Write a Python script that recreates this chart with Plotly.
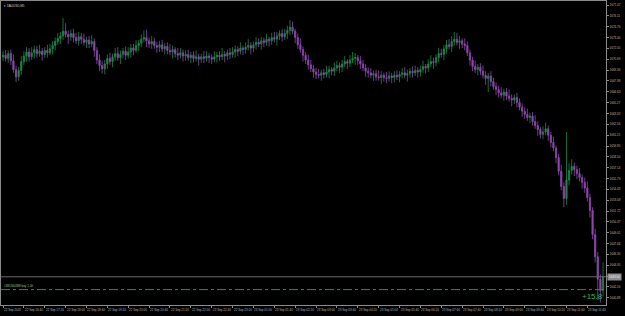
import plotly.graph_objects as go

SYMBOL = "XAUUSD,M5"
ORDER_LABEL = "#495160398 buy 1.00"
PROFIT_TEXT = "+15.8"

O = [
1671.00,1671.20,1670.80,1671.40,1670.50,1669.40,1668.50,1669.30,1670.40,1671.10,
1671.60,1671.00,1671.50,1671.90,1671.40,1671.70,1671.30,1671.80,1671.50,1672.00,
1672.40,1672.90,1673.30,1673.60,1674.20,1673.80,1673.50,1673.90,1673.40,1673.00,
1673.50,1673.20,1672.80,1673.10,1672.60,1672.90,1671.80,1670.60,1669.90,1669.50,
1670.10,1670.80,1670.40,1671.00,1671.40,1670.90,1671.30,1671.70,1671.20,1671.60,
1672.10,1671.80,1672.40,1672.70,1673.20,1673.40,1673.00,1672.60,1672.90,1672.40,
1672.20,1672.50,1672.00,1672.30,1671.80,1671.60,1671.90,1671.40,1671.20,1671.50,
1671.10,1671.30,1670.90,1671.20,1670.80,1671.00,1670.70,1671.00,1670.80,1671.10,
1670.90,1670.70,1671.00,1671.20,1671.00,1671.30,1671.10,1671.50,1671.30,1671.60,
1671.90,1671.70,1672.10,1671.90,1672.20,1672.40,1672.10,1672.50,1672.80,1672.60,
1673.00,1672.80,1673.20,1673.00,1673.40,1673.20,1673.60,1673.90,1673.50,1673.90,
1674.30,1674.70,1674.20,1673.40,1672.50,1671.90,1671.20,1670.60,1670.00,1669.50,
1669.10,1668.80,1668.70,1669.00,1668.80,1669.10,1669.40,1669.20,1669.60,1669.90,
1669.70,1670.10,1670.40,1670.20,1670.60,1670.80,1670.90,1670.50,1670.10,1669.60,
1669.20,1669.00,1668.70,1668.90,1668.50,1668.40,1668.70,1668.40,1668.30,1668.60,
1668.40,1668.70,1668.50,1668.80,1669.00,1668.70,1668.90,1669.20,1669.00,1669.30,
1669.10,1669.40,1669.80,1669.60,1670.10,1670.40,1670.30,1670.90,1671.40,1671.30,
1672.00,1672.50,1672.30,1672.90,1673.20,1672.80,1673.00,1672.60,1672.40,1671.50,
1670.60,1669.80,1669.40,1669.70,1669.20,1668.70,1668.30,1668.60,1667.90,1667.30,
1666.90,1666.50,1666.20,1666.60,1666.10,1665.80,1665.60,1665.90,1665.30,1664.70,
1664.20,1663.80,1663.40,1663.60,1662.90,1662.40,1661.90,1661.30,1661.60,1662.00,
1661.20,1660.30,1659.60,1658.40,1656.70,1654.80,1653.30,1655.60,1656.80,1657.30,
1656.90,1656.40,1655.90,1655.30,1654.60,1653.40,1651.80,1648.80,1646.00,1643.20,
1641.80]

H = [
1671.75,1671.85,1671.80,1671.90,1671.30,1669.90,1669.70,1671.10,1671.70,1672.20,
1672.10,1672.20,1672.40,1672.40,1672.50,1672.10,1672.20,1672.50,1672.60,1673.00,
1673.40,1674.00,1674.10,1675.85,1675.20,1674.30,1674.40,1674.50,1674.00,1674.10,
1674.00,1673.90,1673.50,1673.60,1673.70,1673.30,1672.20,1671.30,1670.50,1670.60,
1671.30,1671.50,1671.40,1672.10,1672.20,1671.80,1672.10,1672.30,1672.20,1672.60,
1672.60,1673.10,1673.10,1673.80,1674.30,1674.40,1673.40,1673.60,1673.40,1672.90,
1673.00,1673.10,1672.70,1672.80,1672.60,1672.40,1672.20,1672.10,1672.10,1671.90,
1671.80,1671.90,1671.60,1671.70,1671.80,1671.40,1671.40,1671.70,1671.70,1671.50,
1671.30,1671.70,1671.60,1671.70,1672.10,1671.70,1671.90,1672.10,1672.20,1672.40,
1672.30,1672.80,1672.40,1672.80,1673.20,1672.80,1672.90,1673.50,1673.30,1673.50,
1673.40,1673.90,1673.50,1674.00,1674.10,1674.10,1674.30,1674.50,1674.50,1674.90,
1675.60,1675.40,1674.50,1673.90,1673.30,1672.30,1671.60,1671.30,1670.60,1670.00,
1669.60,1669.50,1669.40,1669.50,1669.90,1669.90,1669.70,1670.30,1670.50,1670.30,
1670.60,1671.10,1670.70,1671.20,1671.60,1671.50,1671.20,1671.10,1670.60,1670.10,
1669.70,1669.60,1669.30,1669.40,1669.30,1669.20,1669.00,1669.10,1669.20,1669.00,
1669.20,1669.30,1669.20,1669.60,1669.70,1669.40,1669.60,1669.80,1669.90,1669.70,
1669.90,1670.50,1670.10,1670.70,1671.20,1670.90,1671.30,1672.10,1672.00,1672.50,
1673.10,1673.20,1673.60,1674.10,1674.00,1673.60,1673.30,1673.30,1672.90,1671.90,
1671.00,1670.50,1670.10,1670.20,1669.90,1669.20,1669.00,1669.20,1668.40,1667.80,
1667.40,1667.20,1667.00,1667.10,1666.90,1666.30,1666.30,1666.50,1665.80,1665.20,
1664.70,1664.50,1664.00,1664.10,1663.70,1662.90,1662.20,1662.30,1662.80,1662.40,
1661.60,1661.00,1659.90,1658.90,1657.50,1655.30,1661.60,1657.70,1658.20,1657.80,
1657.40,1657.10,1656.30,1655.90,1655.40,1653.90,1652.20,1649.50,1646.60,1643.80,
1645.30]

L = [
1670.45,1670.40,1670.20,1670.00,1669.00,1667.85,1668.00,1668.70,1670.00,1670.40,
1670.40,1670.60,1670.80,1670.90,1671.00,1670.50,1670.90,1670.90,1671.20,1671.30,
1671.80,1672.50,1672.60,1673.10,1673.40,1672.60,1673.00,1672.80,1672.60,1672.40,
1672.60,1672.40,1672.10,1672.10,1672.20,1671.00,1670.10,1669.20,1668.90,1668.80,
1669.50,1670.00,1669.70,1670.50,1670.50,1670.10,1670.80,1670.60,1670.80,1670.90,
1671.20,1671.50,1671.70,1672.20,1672.80,1672.20,1672.10,1672.00,1672.00,1671.50,
1671.60,1671.60,1671.30,1671.30,1671.20,1670.80,1670.90,1670.60,1670.80,1670.40,
1670.50,1670.50,1670.20,1670.30,1670.40,1669.90,1670.20,1670.20,1670.40,1670.20,
1670.10,1670.30,1670.30,1670.50,1670.60,1670.30,1670.60,1670.70,1670.90,1670.90,
1671.10,1671.30,1671.20,1671.40,1671.80,1671.30,1671.60,1671.90,1672.20,1671.90,
1672.20,1672.40,1672.30,1672.50,1672.80,1672.40,1673.10,1672.90,1673.10,1673.20,
1673.70,1673.80,1672.70,1672.00,1671.50,1670.40,1670.10,1669.40,1669.10,1668.40,
1668.20,1668.30,1668.00,1668.30,1668.40,1668.30,1668.70,1668.60,1669.20,1669.00,
1669.10,1669.70,1669.50,1669.70,1670.20,1670.00,1670.00,1669.50,1669.20,1668.50,
1668.40,1668.30,1668.00,1668.00,1668.00,1667.60,1667.90,1667.70,1667.90,1667.70,
1667.80,1668.10,1667.80,1668.30,1668.30,1667.90,1668.40,1668.40,1668.60,1668.40,
1668.50,1669.00,1668.90,1669.10,1669.70,1669.50,1669.80,1670.30,1670.90,1670.60,
1671.40,1671.90,1671.60,1672.40,1672.40,1672.00,1672.10,1671.80,1671.10,1669.90,
1669.20,1669.00,1668.70,1668.70,1668.30,1667.50,1666.60,1667.30,1666.90,1666.20,
1665.90,1665.80,1665.50,1665.60,1665.40,1664.80,1665.10,1664.70,1664.30,1663.50,
1663.20,1663.00,1662.70,1662.40,1662.00,1661.10,1660.80,1660.70,1661.20,1660.50,
1659.70,1659.20,1657.70,1656.20,1654.30,1652.20,1652.50,1654.90,1656.30,1656.10,
1655.70,1655.40,1654.50,1654.00,1652.90,1650.90,1648.20,1645.30,1640.60,1640.30,
1641.00]

C = [
1671.20,1670.80,1671.40,1670.50,1669.40,1668.50,1669.30,1670.40,1671.10,1671.60,
1671.00,1671.50,1671.90,1671.40,1671.70,1671.30,1671.80,1671.50,1672.00,1672.40,
1672.90,1673.30,1673.60,1674.20,1673.80,1673.50,1673.90,1673.40,1673.00,1673.50,
1673.20,1672.80,1673.10,1672.60,1672.90,1671.80,1670.60,1669.90,1669.50,1670.10,
1670.80,1670.40,1671.00,1671.40,1670.90,1671.30,1671.70,1671.20,1671.60,1672.10,
1671.80,1672.40,1672.70,1673.20,1673.40,1673.00,1672.60,1672.90,1672.40,1672.20,
1672.50,1672.00,1672.30,1671.80,1671.60,1671.90,1671.40,1671.20,1671.50,1671.10,
1671.30,1670.90,1671.20,1670.80,1671.00,1670.70,1671.00,1670.80,1671.10,1670.90,
1670.70,1671.00,1671.20,1671.00,1671.30,1671.10,1671.50,1671.30,1671.60,1671.90,
1671.70,1672.10,1671.90,1672.20,1672.40,1672.10,1672.50,1672.80,1672.60,1673.00,
1672.80,1673.20,1673.00,1673.40,1673.20,1673.60,1673.90,1673.50,1673.90,1674.30,
1674.70,1674.20,1673.40,1672.50,1671.90,1671.20,1670.60,1670.00,1669.50,1669.10,
1668.80,1668.70,1669.00,1668.80,1669.10,1669.40,1669.20,1669.60,1669.90,1669.70,
1670.10,1670.40,1670.20,1670.60,1670.80,1670.90,1670.50,1670.10,1669.60,1669.20,
1669.00,1668.70,1668.90,1668.50,1668.40,1668.70,1668.40,1668.30,1668.60,1668.40,
1668.70,1668.50,1668.80,1669.00,1668.70,1668.90,1669.20,1669.00,1669.30,1669.10,
1669.40,1669.80,1669.60,1670.10,1670.40,1670.30,1670.90,1671.40,1671.30,1672.00,
1672.50,1672.30,1672.90,1673.20,1672.80,1673.00,1672.60,1672.40,1671.50,1670.60,
1669.80,1669.40,1669.70,1669.20,1668.70,1668.30,1668.60,1667.90,1667.30,1666.90,
1666.50,1666.20,1666.60,1666.10,1665.80,1665.60,1665.90,1665.30,1664.70,1664.20,
1663.80,1663.40,1663.60,1662.90,1662.40,1661.90,1661.30,1661.60,1662.00,1661.20,
1660.30,1659.60,1658.40,1656.70,1654.80,1653.30,1655.60,1656.80,1657.30,1656.90,
1656.40,1655.90,1655.30,1654.60,1653.40,1651.80,1648.80,1646.00,1643.20,1641.80,
1643.50]

TIME_LABELS = [
"22 Sep 2022","22 Sep 16:40","22 Sep 17:20","22 Sep 18:00","22 Sep 18:40",
"22 Sep 19:20","22 Sep 20:00","22 Sep 20:40","22 Sep 21:20","22 Sep 22:00",
"22 Sep 22:40","22 Sep 23:20","23 Sep 01:00","23 Sep 01:40","23 Sep 02:20",
"23 Sep 03:00","23 Sep 03:40","23 Sep 04:20","23 Sep 05:00","23 Sep 05:40",
"23 Sep 06:20","23 Sep 07:00","23 Sep 07:40","23 Sep 08:20","23 Sep 09:00",
"23 Sep 09:40","23 Sep 10:20","23 Sep 11:00","23 Sep 11:40"]

PRICE_TICKS = [1677.47,1676.11,1674.76,1673.40,1672.05,1670.69,1669.34,1667.98,
1666.63,1665.27,1663.92,1662.56,1661.21,1659.85,1658.50,1657.14,1655.79,1654.43,
1653.08,1651.72,1650.37,1649.01,1647.66,1646.30,1644.95,1643.59,1642.24,1640.88]

BUY_PRICE = 1641.90
BARS_PER_LABEL = 8

GREEN = "#1f8748"
PURPLE = "#8e48ae"
AXIS_COL = "#8a8a8a"
TXT_COL = "#b4b4b4"
FONT = "Liberation Sans"

idx = list(range(len(C)))
bid = C[-1]

fig = go.Figure()
fig.add_trace(go.Candlestick(
    x=idx, open=O, high=H, low=L, close=C,
    increasing=dict(line=dict(color=GREEN, width=0.8), fillcolor=GREEN),
    decreasing=dict(line=dict(color=PURPLE, width=0.8), fillcolor=PURPLE),
    whiskerwidth=0, hoverinfo="skip", showlegend=False,
))

label_pos = [k * BARS_PER_LABEL for k in range(len(TIME_LABELS))]

shapes = [
    dict(type="line", xref="paper", x0=0, x1=1, yref="y", y0=bid, y1=bid,
         line=dict(color="#6a6a6a", width=1)),
    dict(type="line", xref="paper", x0=0, x1=1, yref="y", y0=BUY_PRICE, y1=BUY_PRICE,
         line=dict(color="#2f8a3a", width=1, dash="dashdot")),
]

annotations = []
for pos, lbl in zip(label_pos, TIME_LABELS):
    annotations.append(dict(x=pos, xref="x", y=0, yref="paper", text=lbl,
                            xanchor="left", yanchor="middle", yshift=-5, xshift=-1,
                            showarrow=False, font=dict(size=3, color=TXT_COL, family=FONT)))
annotations += [
    dict(x=0, xref="paper", y=1, yref="paper", text="▾ " + SYMBOL, xanchor="left",
         yanchor="top", xshift=1, yshift=-1, showarrow=False,
         font=dict(size=3, color="#cfcfcf", family=FONT)),
    dict(x=0, xref="paper", y=BUY_PRICE, yref="y", text=ORDER_LABEL, xanchor="left",
         yanchor="bottom", xshift=1, yshift=0, showarrow=False,
         font=dict(size=3, color="#8fc88f", family=FONT)),
    dict(x=1, xref="paper", y=bid, yref="y", text=f"{bid:.2f}", xanchor="left",
         yanchor="middle", xshift=1, showarrow=False, bgcolor="#8c8c8c", borderpad=1,
         font=dict(size=3, color="#f0f0f0", family=FONT)),
    dict(x=len(C) - 5, xref="x", y=0, yref="paper", text=PROFIT_TEXT, xanchor="center",
         yanchor="bottom", yshift=2, showarrow=False,
         font=dict(size=8, color="#34b04e", family=FONT)),
]

fig.update_layout(
    width=625, height=316,
    margin=dict(l=1, r=19, t=1, b=11),
    paper_bgcolor="#000000", plot_bgcolor="#000000",
    shapes=shapes, annotations=annotations, showlegend=False,
    xaxis=dict(range=[-0.77, 231.15], rangeslider=dict(visible=False),
               showgrid=False, zeroline=False, showline=True, linecolor=AXIS_COL,
               linewidth=1, mirror=True, tickvals=label_pos, showticklabels=False,
               ticks="outside", ticklen=2, tickcolor=AXIS_COL),
    yaxis=dict(range=[1639.975, 1677.975], side="right", showgrid=False,
               zeroline=False, showline=True, linecolor=AXIS_COL, linewidth=1,
               mirror=True, tickvals=PRICE_TICKS,
               ticktext=[f"{v:.2f}" for v in PRICE_TICKS], ticks="outside",
               ticklen=2, tickcolor=AXIS_COL,
               tickfont=dict(size=3, color=TXT_COL, family=FONT)),
)

fig.write_html("out.html")
